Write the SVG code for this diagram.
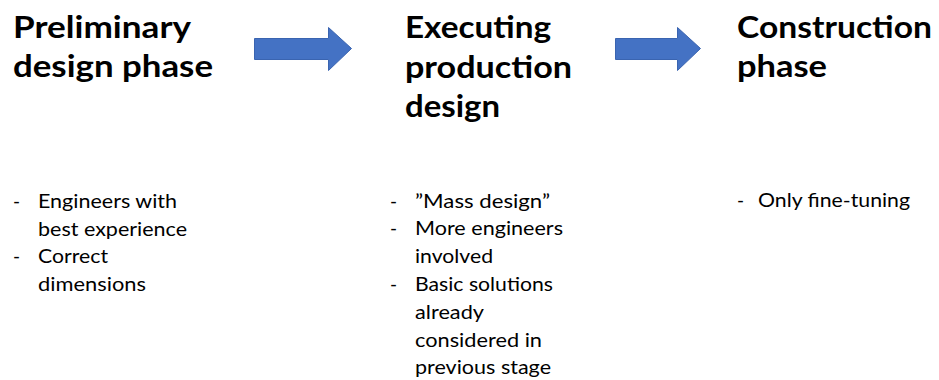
<svg xmlns="http://www.w3.org/2000/svg" width="939" height="380" viewBox="0 0 939 380">
<style>
.h{font-family:Lato,"Liberation Sans",sans-serif;font-weight:700;font-size:31px;fill:#000}
.b{font-family:Lato,"Liberation Sans",sans-serif;font-size:19px;fill:#000}
.arr{fill:#4472C4;stroke:#3A64B0;stroke-width:1}
</style>
<rect width="939" height="380" fill="#fff"/>
<g id="connectors">
<path class="arr" d="M254.5,38.5 H328.5 V27.5 L351.5,48.5 L328.5,70.5 V59.5 H254.5 Z"/>
<path class="arr" d="M615.5,38.5 H677.5 V27.5 L700.5,48.5 L677.5,70.5 V59.5 H615.5 Z"/>
</g>
<g id="preliminary">
<text class="h" x="13" y="38" textLength="178" lengthAdjust="spacingAndGlyphs">Preliminary</text>
<text class="h" x="13" y="77" textLength="200" lengthAdjust="spacingAndGlyphs">design phase</text>
<text class="b" x="13" y="208">-</text>
<text class="b" x="38" y="208" textLength="139" lengthAdjust="spacingAndGlyphs">Engineers with</text>
<text class="b" x="38" y="235.5" textLength="149" lengthAdjust="spacingAndGlyphs">best experience</text>
<text class="b" x="13" y="263">-</text>
<text class="b" x="38" y="263" textLength="70" lengthAdjust="spacingAndGlyphs">Correct</text>
<text class="b" x="38" y="290.5" textLength="108" lengthAdjust="spacingAndGlyphs">dimensions</text>
</g>
<g id="executing">
<text class="h" x="405" y="38" textLength="146" lengthAdjust="spacingAndGlyphs">Executing</text>
<text class="h" x="405" y="77.5" textLength="167" lengthAdjust="spacingAndGlyphs">production</text>
<text class="h" x="405" y="117" textLength="95" lengthAdjust="spacingAndGlyphs">design</text>
<text class="b" x="390" y="207.5">-</text>
<text class="b" x="415" y="207.5" textLength="135" lengthAdjust="spacingAndGlyphs">”Mass design”</text>
<text class="b" x="390" y="235">-</text>
<text class="b" x="415" y="235" textLength="148" lengthAdjust="spacingAndGlyphs">More engineers</text>
<text class="b" x="415" y="263" textLength="78" lengthAdjust="spacingAndGlyphs">involved</text>
<text class="b" x="390" y="290.5">-</text>
<text class="b" x="415" y="290.5" textLength="138" lengthAdjust="spacingAndGlyphs">Basic solutions</text>
<text class="b" x="415" y="318.5" textLength="69" lengthAdjust="spacingAndGlyphs">already</text>
<text class="b" x="415" y="346.5" textLength="127" lengthAdjust="spacingAndGlyphs">considered in</text>
<text class="b" x="415" y="374" textLength="136" lengthAdjust="spacingAndGlyphs">previous stage</text>
</g>
<g id="construction">
<text class="h" x="737" y="38" textLength="195" lengthAdjust="spacingAndGlyphs">Construction</text>
<text class="h" x="737" y="77" textLength="90" lengthAdjust="spacingAndGlyphs">phase</text>
<text class="b" x="737" y="206.5">-</text>
<text class="b" x="758" y="206.5" textLength="152" lengthAdjust="spacingAndGlyphs">Only fine-tuning</text>
</g>
</svg>
